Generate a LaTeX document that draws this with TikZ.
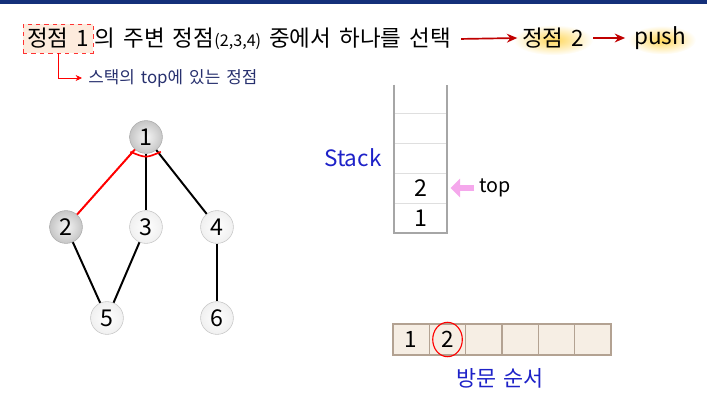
\documentclass[tikz,border=0pt]{standalone}
\usepackage{fontspec}
\setmainfont[WordSpace=1.6]{Noto Sans CJK KR}
\usepackage{tikz}
\usetikzlibrary{shapes,arrows,arrows.meta,positioning,calc}
\definecolor{barblue}{HTML}{14307A}
\definecolor{darkred}{HTML}{C00000}
\definecolor{notenavy}{HTML}{27306E}
\definecolor{labelblue}{HTML}{1E22C8}
\definecolor{peach}{HTML}{FDEBDD}
\definecolor{glow}{HTML}{FFD75A}
\definecolor{slotfill}{HTML}{F6EEE4}
\definecolor{slotline}{HTML}{B3A292}
\definecolor{toppink}{HTML}{F5A8EC}

\begin{document}
\begin{tikzpicture}
\useasboundingbox (0,0) rectangle (17.675,10.15);
\fill[barblue] (0,10.05) rectangle (17.675,10.15);

\tikzstyle{vtx}=[circle,draw=gray!45,inner color=white,outer color=gray!12,minimum size=0.82cm,inner sep=0pt,font=\fontsize{16.5}{18}\selectfont]
\tikzstyle{vtxseen}=[vtx,draw=gray!65,inner color=gray!8,outer color=gray!45]
\tikzstyle{cell}=[rectangle,draw=gray!25,minimum width=1.325cm,minimum height=0.75cm,inner sep=0pt,font=\fontsize{16.5}{18}\selectfont]
\tikzstyle{slot}=[rectangle,draw=slotline,fill=slotfill,thick,minimum width=0.908cm,minimum height=0.775cm,inner sep=0pt,font=\fontsize{16}{18}\selectfont]
\tikzstyle{goarrow}=[darkred,line width=1.2pt,-{Stealth[length=2.6mm,width=2.2mm]}]
\tikzstyle{edge}=[line width=1.4pt]

% title line
\node (cur) at (1.45,9.19) [rectangle,draw=red!80,dashed,fill=peach,minimum width=1.75cm,minimum height=0.725cm,inner sep=0pt,font=\fontsize{16}{18}\selectfont] {정점 1};
\node (rest) [anchor=base west,inner sep=0pt,xshift=0.03cm,font=\fontsize{16}{18}\selectfont] at (cur.base east) {의 주변 정점{\fontsize{11.5}{12}\selectfont(2,3,4)} 중에서 하나를 선택};
\shade[inner color=glow,outer color=white] (13.83,9.15) ellipse (1.0cm and 0.38cm);
\shade[inner color=glow,outer color=white] (16.55,9.15) ellipse (0.85cm and 0.36cm);
\node (next) at (13.83,9.2) [font=\fontsize{16}{18}\selectfont] {정점 2};
\node (push) at (16.5,9.2) [font=\fontsize{16}{18}\selectfont] {push};
\draw[goarrow,shorten <=0.25cm] (rest.east) -- (next.west);
\draw[goarrow,shorten <=0.1cm,shorten >=0.1cm] (next.east) -- (push.west);

\node (note) at (2.2,8.2) [anchor=west,inner sep=0pt,text=notenavy,font=\fontsize{12}{13}\selectfont] {스택의 top에 있는 정점};
\draw[red,-{Stealth[length=1.6mm,width=1.5mm]},shorten >=0.15cm] (cur.south) |- (note.west);

% graph
\node (n1) at (3.65,6.725) [vtxseen] {1};
\node (n2) at (1.65,4.475) [vtxseen] {2};
\node (n3) at (3.65,4.475) [vtx] {3};
\node (n4) at (5.425,4.475) [vtx] {4};
\node (n5) at (2.675,2.2) [vtx] {5};
\node (n6) at (5.425,2.2) [vtx] {6};
\draw[edge,red] (n1) -- (n2);
\draw[edge] (n1) -- (n3);
\draw[edge] (n1) -- (n4);
\draw[edge] (n2) -- (n5);
\draw[edge] (n3) -- (n5);
\draw[edge] (n4) -- (n6);
\draw[red,line width=1.2pt] ($(n1)+(-0.39,-0.37)$) .. controls ($(n1)+(0,-0.53)$) .. ($(n1)+(0.37,-0.37)$);

% stack
\foreach \i/\v in {1/1,2/2,3/,4/}
  \node (s\i) at (10.5125,3.95+0.75*\i) [cell] {\v};
\draw[gray!70,line width=1.6pt] ($(s4.north west)+(0,0.7)$) -- (s1.south west) -- (s1.south east) -- ($(s4.north east)+(0,0.7)$);
\node [node distance=1.69cm,left of=s3,text=labelblue,font=\fontsize{16}{18}\selectfont] {Stack};
\node (toplbl) [node distance=1.86cm,right of=s2,font=\fontsize{14}{15}\selectfont] {top};
\draw[toppink,line width=4pt,-{Triangle[length=2.4mm,width=4.6mm]},shorten >=0.08cm] (toplbl.west) -- (s2.east);

% visit order
\foreach \i/\v in {1/1,2/2,3/,4/,5/,6/}
  \node (v\i) at (9.372+0.908*\i,1.6625) [slot] {\v};
\draw[red,thick] (v2) ellipse (0.37cm and 0.43cm);
\node (order) at (12.5,0.7) [text=labelblue,font=\fontsize{15.5}{17}\selectfont] {방문 순서};

\end{tikzpicture}
\end{document}
